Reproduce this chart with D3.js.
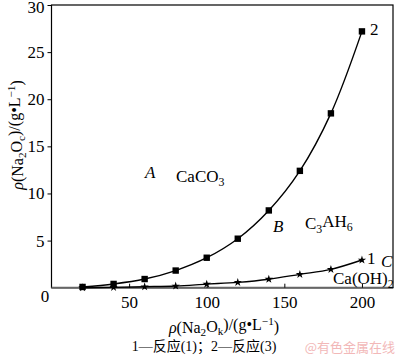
<!DOCTYPE html>
<html><head><meta charset="utf-8">
<script src="https://cdn.jsdelivr.net/npm/d3@7"></script>
<style>body{margin:0;background:#fff}svg{display:block}</style>
</head><body>
<svg id="c" width="400" height="358"></svg>
<script>
const xVals = [20,40,60,80,100,120,140,160,180,200];
const series2 = [0.08,0.4,0.92,1.82,3.18,5.2,8.2,12.4,18.5,27.2];   // 反应(3), squares
const series1 = [0.0,0.03,0.1,0.18,0.38,0.57,0.9,1.42,1.95,2.94];  // 反应(1), stars
const yTicks = [5,10,15,20,25,30];
const xTicks = [50,100,150,200];

const FONT = "'Liberation Serif','Times New Roman',serif";
const svg = d3.select("#c");
const L=51.5, R=393, T=5, B=287.7;
const x = d3.scaleLinear().domain([0,220]).range([L,R]);
const y = d3.scaleLinear().domain([0,30]).range([B,T]);

// frame
svg.append("rect").attr("x",L).attr("y",T).attr("width",R-L).attr("height",B-T)
  .attr("fill","none").attr("stroke","#000").attr("stroke-width",1.2);
svg.append("line").attr("x1",L).attr("x2",R).attr("y1",B).attr("y2",B)
  .attr("stroke","#666").attr("stroke-width",2);

// axes
const ya = svg.append("g").attr("transform",`translate(${L},0)`)
  .attr("font-family",FONT)
  .call(d3.axisLeft(y).tickValues(yTicks).tickSize(4).tickPadding(3));
ya.attr("font-family",FONT).attr("font-size",17);
ya.select(".domain").remove();
ya.selectAll("text").attr("font-family",FONT).attr("font-size",17).attr("fill","#000");
ya.selectAll("line").attr("stroke","#000");
// keep the clipped top label just inside the picture
ya.selectAll(".tick").filter(d=>d===30).select("text").attr("dy","0.42em");

const xa = svg.append("g").attr("transform",`translate(0,${B})`)
  .call(d3.axisBottom(x).tickValues(xTicks).tickSize(-4).tickPadding(8));
xa.attr("font-family",FONT).attr("font-size",17);
xa.select(".domain").remove();
xa.selectAll("text").attr("font-family",FONT).attr("font-size",17).attr("fill","#000");
xa.selectAll("line").attr("stroke","#000");

svg.append("text").attr("x",45).attr("y",301.5).attr("text-anchor","middle")
  .attr("font-family",FONT).attr("font-size",17).text("0");

// lines
const line = d3.line().x(d=>x(d[0])).y(d=>y(d[1])).curve(d3.curveCatmullRom.alpha(0.5));
const d2 = xVals.map((v,i)=>[v,series2[i]]);
const d1 = xVals.map((v,i)=>[v,series1[i]]);
svg.append("path").attr("d",line(d1)).attr("fill","none").attr("stroke","#000").attr("stroke-width",1.4);
svg.append("path").attr("d",line(d2)).attr("fill","none").attr("stroke","#000").attr("stroke-width",1.4);

svg.selectAll(".sq").data(d2).enter().append("rect")
  .attr("x",d=>x(d[0])-3.2).attr("y",d=>y(d[1])-3.2).attr("width",6.4).attr("height",6.4).attr("fill","#000");
const star = d3.symbol().type(d3.symbolStar).size(22);
svg.selectAll(".st").data(d1).enter().append("path")
  .attr("d",star).attr("transform",d=>`translate(${x(d[0])},${y(d[1])})`).attr("fill","#000");

// text helper
function rich(parent, parts, attrs){
  const t = parent.append("text").attr("font-family",FONT).attr("fill","#000");
  Object.entries(attrs).forEach(([k,v])=>t.attr(k,v));
  parts.forEach(p=>{
    const s = t.append("tspan").text(p.t);
    if(p.sub){ s.attr("font-size","70%").attr("dy", "0.3em"); }
    if(p.sup){ s.attr("font-size","70%").attr("dy", "-0.45em"); }
    if(p.back) s.attr("dy", p.back);
    if(p.it) s.attr("font-style","italic");
  });
  return t;
}

// curve labels
rich(svg,[{t:"2"}],{x:370,y:35,"font-size":17});
rich(svg,[{t:"1"}],{x:367,y:264,"font-size":17});
rich(svg,[{t:"C",it:true}],{x:381,y:267,"font-size":17});
rich(svg,[{t:"Ca(OH)"},{t:"2",sub:true}],{x:333,y:284,"font-size":17});
rich(svg,[{t:"A",it:true}],{x:145,y:178,"font-size":17});
rich(svg,[{t:"CaCO"},{t:"3",sub:true}],{x:176,y:182,"font-size":17});
rich(svg,[{t:"B",it:true}],{x:273,y:232,"font-size":17});
rich(svg,[{t:"C"},{t:"3",sub:true},{t:"AH",back:"-0.3em"},{t:"6",sub:true}],{x:305,y:229,"font-size":17});

// axis titles
rich(svg,[{t:"ρ",it:true},{t:"(Na"},{t:"2",sub:true},{t:"O",back:"-0.3em"},{t:"k",sub:true},
  {t:")/(g•L",back:"-0.3em"},{t:"−1",sup:true},{t:")",back:"0.45em"}],
  {x:224,y:333,"font-size":16,"text-anchor":"middle"});
const yl = svg.append("g").attr("transform","translate(23,135) rotate(-90)");
rich(yl,[{t:"ρ",it:true},{t:"(Na"},{t:"2",sub:true},{t:"O",back:"-0.3em"},{t:"c",sub:true},
  {t:")/(g•L",back:"-0.3em"},{t:"−1",sup:true},{t:")",back:"0.45em"}],
  {x:0,y:0,"font-size":16,"text-anchor":"middle"});

// caption
svg.append("text").attr("x",204).attr("y",351).attr("text-anchor","middle")
  .attr("font-family","'Liberation Serif','Noto Sans CJK SC',serif").attr("font-size",14)
  .text("1—反应(1)；2—反应(3)");
svg.append("text").attr("x",395).attr("y",352).attr("text-anchor","end")
  .attr("font-family","'Noto Sans CJK SC',sans-serif").attr("font-size",13).attr("fill","#f2b8b8")
  .text("@有色金属在线");
</script>
</body></html>
